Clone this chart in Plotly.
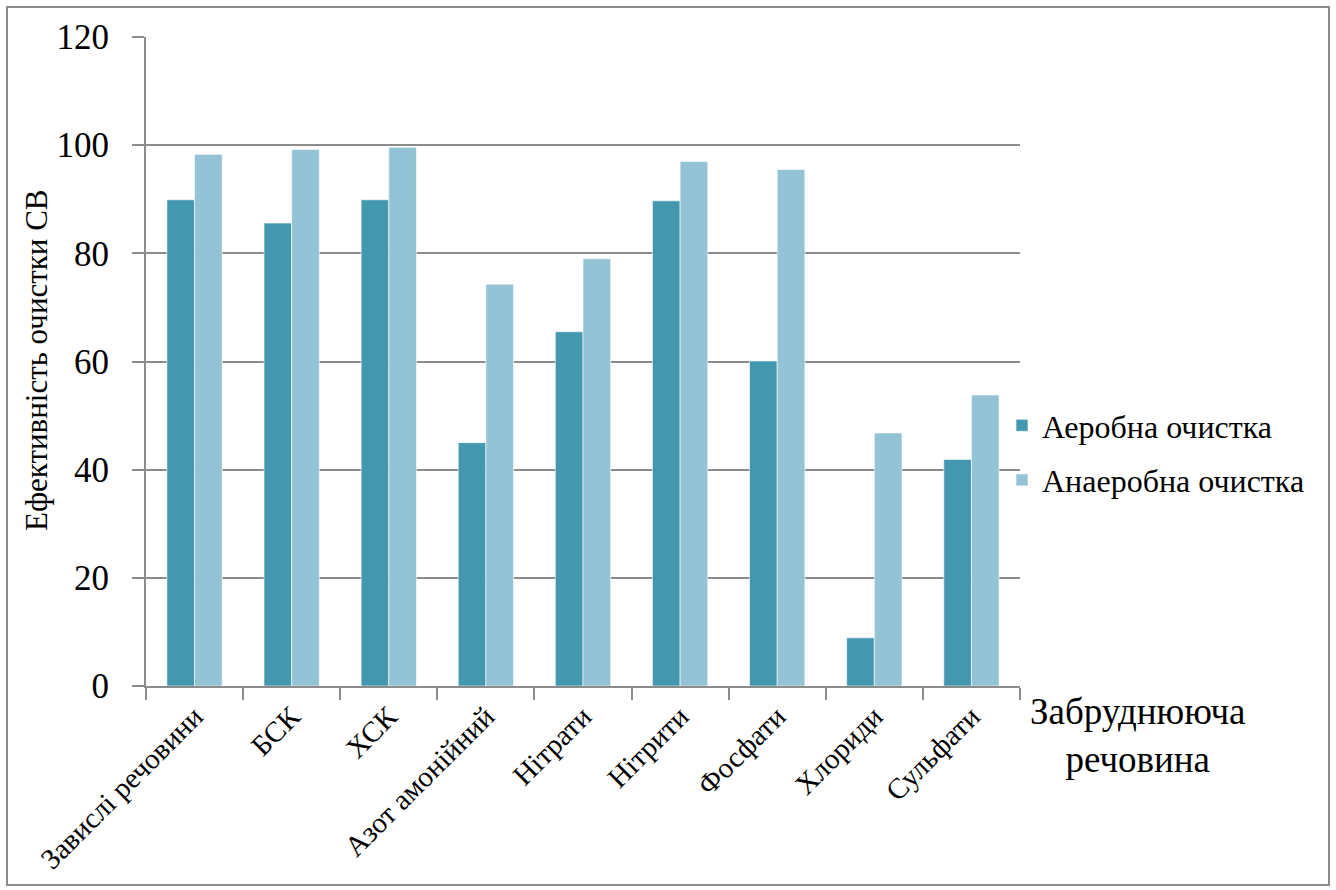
import plotly.graph_objects as go

categories = ["Завислі речовини", "БСК", "ХСК", "Азот амонійний", "Нітрати",
              "Нітрити", "Фосфати", "Хлориди", "Сульфати"]
aerobic = [89.9, 85.6, 89.9, 45.0, 65.5, 89.7, 60.1, 8.9, 41.9]
anaerobic = [98.3, 99.2, 99.6, 74.3, 79.0, 97.0, 95.5, 46.8, 53.8]
series_names = ["Аеробна очистка", "Анаеробна очистка"]
y_ticks = [0, 20, 40, 60, 80, 100, 120]

FONT = "Liberation Serif"
W, H = 1336, 890
L, R, T, B = 146, 1020, 37, 686

def px(x):
    return (x - L) / (R - L)

def py(y):
    return (B - y) / (B - T)

fig = go.Figure()
fig.add_trace(go.Bar(x=categories, y=aerobic, name=series_names[0],
                     marker=dict(color="#4398B0", line=dict(color="rgba(255,255,255,0.6)", width=1)),
                     legendgroup="a"))
fig.add_trace(go.Bar(x=categories, y=anaerobic, name=series_names[1],
                     marker=dict(color="#93C3D4", line=dict(color="rgba(255,255,255,0.6)", width=1)),
                     legendgroup="b"))

fig.update_layout(
    width=W, height=H,
    margin=dict(l=L, r=W - R, t=T, b=H - B, autoexpand=False),
    paper_bgcolor="white", plot_bgcolor="white",
    font=dict(family=FONT, color="black"),
    barmode="group", bargap=0.43, bargroupgap=0,
    showlegend=True,
    legend=dict(x=px(1002), y=py(453), xanchor="left", yanchor="middle",
                font=dict(size=32, family=FONT), tracegroupgap=10,
                bgcolor="rgba(0,0,0,0)", itemwidth=30),
    xaxis=dict(
        showgrid=False, showline=True, linecolor="#8c8c8c", linewidth=2,
        ticks="outside", tickson="boundaries", ticklen=12, tickcolor="#8c8c8c", tickwidth=2,
        tickangle=-45, tickfont=dict(size=29, family=FONT),
    ),
    yaxis=dict(
        range=[0, 120], tickvals=y_ticks, showgrid=True, gridcolor="#8c8c8c", gridwidth=2,
        showline=True, linecolor="#8c8c8c", linewidth=2,
        ticks="outside", ticklen=12, tickcolor="#8c8c8c", tickwidth=2,
        ticklabelstandoff=16,
        tickfont=dict(size=35, family=FONT), zeroline=False,
    ),
    shapes=[dict(type="rect", xref="paper", yref="paper",
                 x0=px(7), x1=px(1329), y0=py(885), y1=py(7),
                 line=dict(color="#8c8c8c", width=2), layer="below")],
    annotations=[
        dict(text="Ефективність очистки СВ", xref="paper", yref="paper",
             x=px(37), y=py(360), textangle=-90, showarrow=False,
             font=dict(size=31, family=FONT), xanchor="center", yanchor="middle"),
        dict(text="Забруднююча<br>речовина", xref="paper", yref="paper",
             x=px(1138), y=py(735), showarrow=False, align="center",
             font=dict(size=37, family=FONT), xanchor="center", yanchor="middle"),
    ],
)

fig.write_html("out.html")
